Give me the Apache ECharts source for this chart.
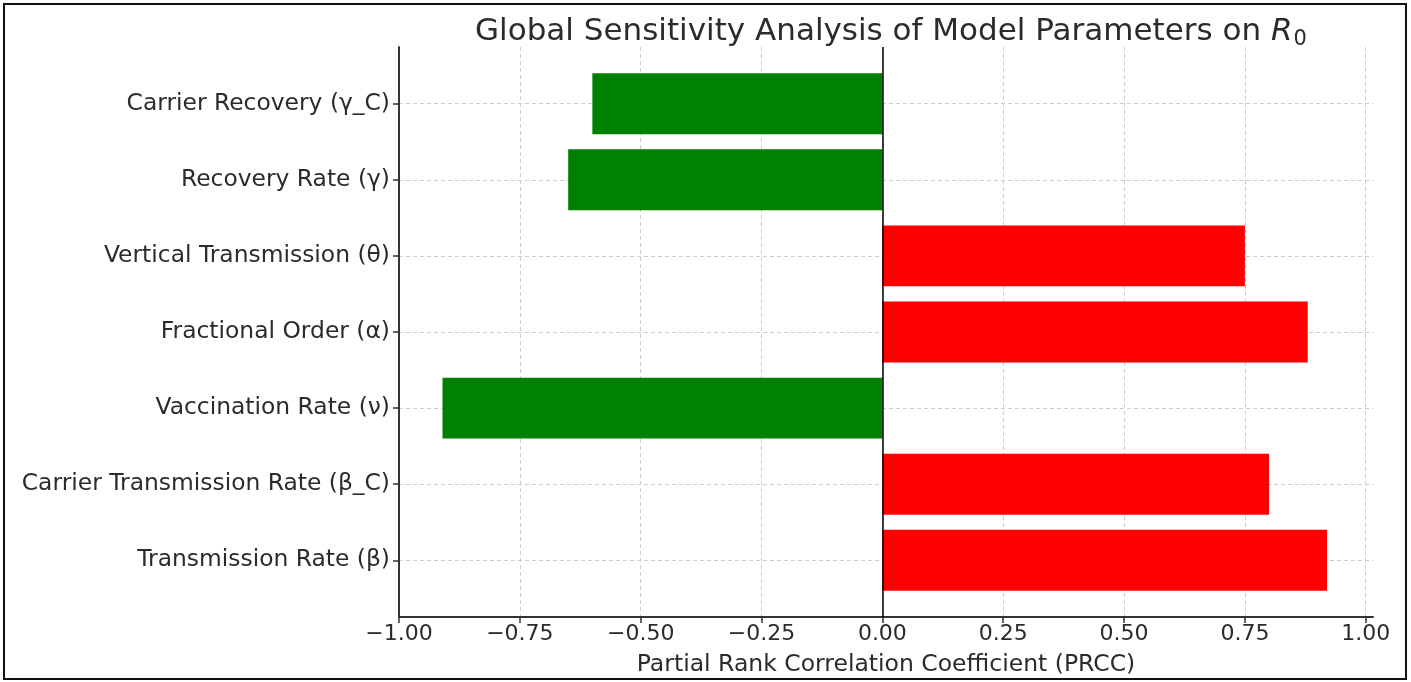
<!DOCTYPE html>
<html>
<head>
<meta charset="utf-8">
<script src="https://cdn.jsdelivr.net/npm/echarts@6/dist/echarts.min.js"></script>
<style>
html,body{margin:0;padding:0;background:#fff;}
#chart{width:1411px;height:682px;}
</style>
</head>
<body>
<div id="chart"></div>
<script>
// Data (bottom to top, as drawn)
const categories = [
  'Transmission Rate (β)',
  'Carrier Transmission Rate (β_C)',
  'Vaccination Rate (ν)',
  'Fractional Order (α)',
  'Vertical Transmission (θ)',
  'Recovery Rate (γ)',
  'Carrier Recovery (γ_C)'
];
const prcc = [0.92, 0.80, -0.91, 0.88, 0.75, -0.65, -0.60];
const xTicks = [-1.0, -0.75, -0.5, -0.25, 0.0, 0.25, 0.5, 0.75, 1.0];

const textColor = '#2b2b2b';
const fontFamily = 'DejaVu Sans';
const chart = echarts.init(document.getElementById('chart'), null, {renderer: 'canvas'});

const fmtTick = v => (v < 0 ? '\u2212' : '') + Math.abs(v).toFixed(2);

chart.setOption({
  backgroundColor: '#ffffff',
  animation: false,
  title: {
    text: '{n|Global Sensitivity Analysis of Model Parameters on }{r|R}{s|0}',
    left: 886,
    textAlign: 'center',
    top: 9,
    textStyle: {
      fontWeight: 'normal',
      rich: {
        n: {fontFamily, fontSize: 31, color: textColor, fontWeight: 'normal'},
        r: {fontFamily, fontSize: 31, color: textColor, fontStyle: 'italic', fontWeight: 'normal'},
        s: {fontFamily, fontSize: 21, color: textColor, fontWeight: 'normal', verticalAlign: 'bottom', padding: [15, 0, 0, 1]}
      }
    }
  },
  graphic: [{
    type: 'rect',
    shape: {x: 4, y: 4, width: 1402, height: 675},
    style: {fill: 'none', stroke: '#111', lineWidth: 2},
    silent: true
  }],
  grid: {left: 399, right: 38, top: 47, bottom: 62, containLabel: false},
  xAxis: {
    type: 'value',
    min: -1.0,
    max: 1.015,
    name: 'Partial Rank Correlation Coefficient (PRCC)',
    nameLocation: 'middle',
    nameGap: 36,
    nameTextStyle: {fontFamily, fontSize: 23.5, color: textColor},
    axisLine: {show: true, onZero: false, lineStyle: {color: '#333', width: 2}},
    axisTick: {show: true, length: 6, customValues: xTicks, lineStyle: {color: '#333', width: 1.5}},
    axisLabel: {customValues: xTicks, formatter: fmtTick, fontFamily, fontSize: 22, color: textColor, margin: 6},
    splitLine: {show: true, lineStyle: {color: '#cccccc', type: [4, 3], width: 1}}
  },
  yAxis: {
    type: 'value',
    min: -0.745,
    max: 6.745,
    axisLine: {show: true, onZero: false, lineStyle: {color: '#333', width: 2}},
    axisTick: {show: true, length: 6, customValues: categories.map((c, i) => i), lineStyle: {color: '#333', width: 1.5}},
    axisLabel: {customValues: categories.map((c, i) => i), formatter: v => categories[Math.round(v)] || '', fontFamily, fontSize: 23.4, color: textColor, margin: 9},
    splitLine: {show: true, lineStyle: {color: '#cccccc', type: [4, 3], width: 1}}
  },
  series: [{
    type: 'custom',
    data: prcc.map((v, i) => [v, i]),
    encode: {x: 0, y: 1},
    renderItem: function (params, api) {
      const v = api.value(0), y = api.value(1);
      const p0 = api.coord([0, y + 0.4]);
      const p1 = api.coord([v, y - 0.4]);
      return {
        type: 'rect',
        shape: {x: Math.min(p0[0], p1[0]), y: p0[1], width: Math.abs(p1[0] - p0[0]), height: p1[1] - p0[1]},
        style: {fill: v >= 0 ? '#ff0000' : '#008000'}
      };
    },
    markLine: {
      silent: true,
      symbol: 'none',
      label: {show: false},
      lineStyle: {color: '#000', width: 1.5, type: 'solid'},
      data: [{xAxis: 0}]
    }
  }]
});
</script>
</body>
</html>
